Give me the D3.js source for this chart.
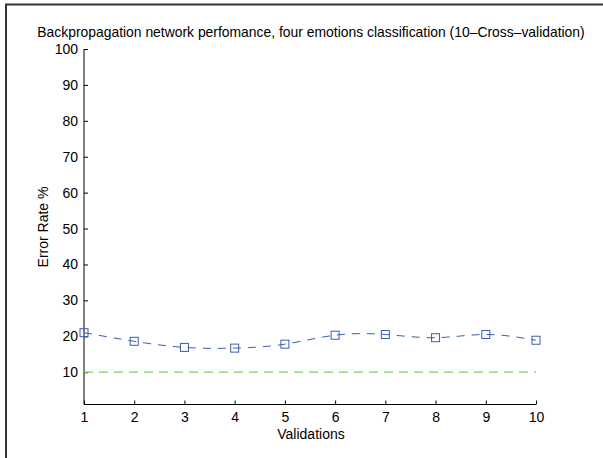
<!DOCTYPE html>
<html><head><meta charset="utf-8">
<script src="https://cdn.jsdelivr.net/npm/d3@7"></script>
<style>body{margin:0;background:#fff}svg{display:block}text{font-family:"Liberation Sans",Arial,sans-serif;fill:#000}</style>
</head><body>
<script>
const validations = [1,2,3,4,5,6,7,8,9,10];
const errorRate = [21.0,18.6,16.9,16.7,17.8,20.3,20.5,19.6,20.5,18.9];
const targetRate = [10,10,10,10,10,10,10,10,10,10];
const yTicks = [10,20,30,40,50,60,70,80,90,100];
const title = "Backpropagation network perfomance, four emotions classification (10\u2013Cross\u2013validation)";

const W=603,H=458;
const svg=d3.select("body").append("svg").attr("width",W).attr("height",H);
svg.append("path").attr("d",`M6,${H}V4.5H${W}`).attr("fill","none").attr("stroke","#333").attr("stroke-width",2);

const x=d3.scaleLinear().domain([1,10]).range([84,536]);
const y=d3.scaleLinear().domain([1,100]).range([404.5,49]);

const gx=svg.append("g").attr("transform","translate(0,404.5)")
 .call(d3.axisBottom(x).tickValues(validations).tickFormat(d3.format("d")).tickSizeInner(-4).tickSizeOuter(0).tickPadding(8));
const gy=svg.append("g").attr("transform","translate(84,0)")
 .call(d3.axisLeft(y).tickValues(yTicks).tickSizeInner(-4).tickSizeOuter(0).tickPadding(6));
[gx,gy].forEach(g=>{g.selectAll("path,line").attr("stroke","#000");g.selectAll("text").attr("font-size",14).attr("font-family","Liberation Sans, Arial, sans-serif");});
gx.select(".domain").attr("d","M84,0H536");
gy.select(".domain").attr("d","M0,404.5V49");

const line=d3.line().x((d,i)=>x(validations[i])).y(d=>y(d));
svg.append("path").datum(targetRate).attr("d",line).attr("fill","none").attr("stroke","#7ccf66").attr("stroke-width",1.3).attr("stroke-dasharray","9,6");
svg.append("path").datum(errorRate).attr("d",line.curve(d3.curveNatural)).attr("fill","none").attr("stroke","#3c5cb4").attr("stroke-width",1).attr("stroke-dasharray","8,7");
svg.selectAll("rect.m").data(errorRate).join("rect").attr("class","m")
 .attr("x",(d,i)=>x(validations[i])-4).attr("y",d=>y(d)-4).attr("width",8).attr("height",8)
 .attr("fill","none").attr("stroke","#3c5cb4").attr("stroke-width",1);

svg.append("text").attr("x",311).attr("y",37).attr("text-anchor","middle").attr("font-size",13.9).text(title);
svg.append("text").attr("x",311).attr("y",439).attr("text-anchor","middle").attr("font-size",14).text("Validations");
svg.append("text").attr("transform","translate(48,227) rotate(-90)").attr("text-anchor","middle").attr("font-size",14).text("Error Rate %");
</script>
</body></html>
